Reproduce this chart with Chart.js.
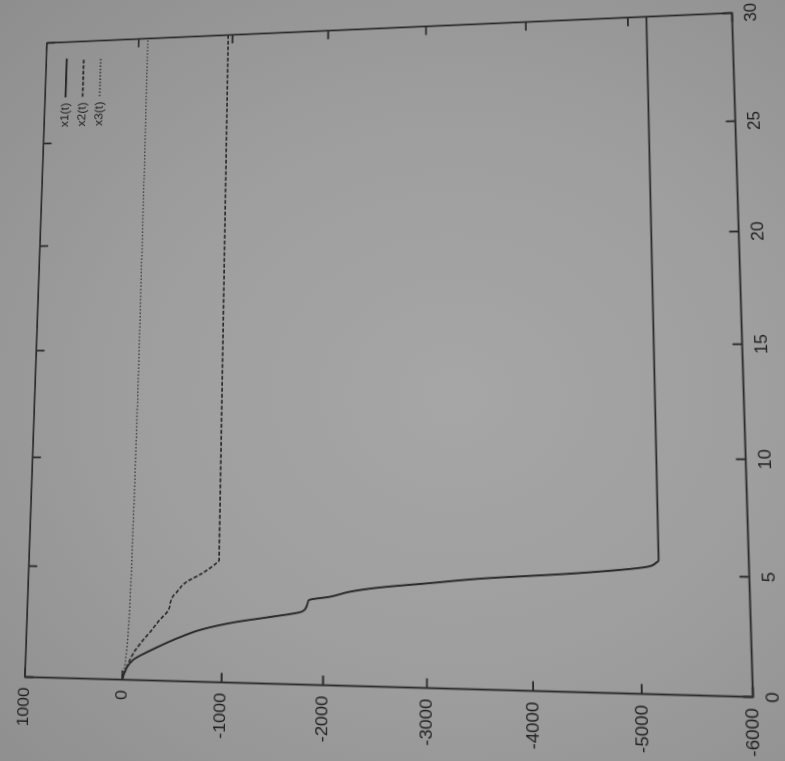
<!DOCTYPE html>
<html>
<head>
<meta charset="utf-8">
<script src="https://cdn.jsdelivr.net/npm/chart.js@4.4.1/dist/chart.umd.min.js"></script>
<style>
  html, body { margin: 0; width: 785px; height: 761px; overflow: hidden; }
  body {
    position: relative;
    background: radial-gradient(ellipse at 58% 52%, #a6a6a6 0%, #9e9e9e 50%, #8e8e8e 100%);
  }
  #grafica { position: absolute; left: 0; top: 0; transform-origin: 0 0; filter: blur(0.5px); }
</style>
</head>
<body>
<canvas id="grafica" width="740" height="780"></canvas>
<script>
// axis ticks
const tickT = [0, 5, 10, 15, 20, 25, 30];
const tickV = [1000, 0, -1000, -2000, -3000, -4000, -5000, -6000];

// x1(t)
const x1T = [0, 0.5, 0.9, 1.3, 1.7, 2.0, 2.3, 2.65, 2.9, 3.15, 3.3, 3.45, 3.6, 3.7, 3.85, 4.1, 4.3, 4.5, 4.75, 5.05, 5.35, 5.55, 5.65, 30];
const x1V = [0, -40, -110, -270, -455, -610, -790, -1120, -1455, -1770, -1820, -1835, -1845, -1860, -2060, -2270, -2560, -2990, -3520, -4440, -5060, -5160, -5180, -5180];

// x2(t)
const x2T = [0, 0.4, 0.8, 1.2, 1.7, 2.2, 2.7, 3.1, 3.25, 3.45, 3.7, 4.0, 4.35, 4.8, 5.3, 5.38, 30];
const x2V = [0, -30, -65, -110, -190, -283, -370, -450, -462, -470, -490, -545, -615, -790, -940, -955, -955];

// x3(t)
const x3T = [0, 0.5, 1, 2, 4, 7, 10, 15, 20, 25, 30];
const x3V = [0, -20, -32, -48, -62, -72, -80, -88, -92, -95, -97];

const names = ['x1(t)', 'x2(t)', 'x3(t)'];
const ink = '#2a2a2a';

const pts = (ts, vs) => ts.map((t, i) => ({ x: t, y: vs[i] }));

Chart.defaults.font.family = "'Liberation Sans Narrow', 'Liberation Sans', sans-serif";
Chart.defaults.font.size = 17;
Chart.defaults.color = '#1f1f1f';

// frame with inward ticks on all four sides
const frameTicks = {
  id: 'frameTicks',
  afterDatasetsDraw(chart) {
    const { ctx, chartArea: a, scales } = chart;
    const len = 9;
    ctx.save();
    ctx.strokeStyle = ink;
    ctx.lineWidth = 1.8;
    ctx.setLineDash([]);
    ctx.strokeRect(a.left, a.top, a.right - a.left, a.bottom - a.top);
    ctx.beginPath();
    tickT.forEach(t => {
      const px = scales.x.getPixelForValue(t);
      ctx.moveTo(px, a.bottom); ctx.lineTo(px, a.bottom - len);
      ctx.moveTo(px, a.top); ctx.lineTo(px, a.top + len);
    });
    tickV.forEach(v => {
      const py = scales.y.getPixelForValue(v);
      ctx.moveTo(a.left, py); ctx.lineTo(a.left + len, py);
      ctx.moveTo(a.right, py); ctx.lineTo(a.right - len, py);
    });
    ctx.stroke();
    ctx.restore();
  }
};

// key in the top right corner: label, then line sample
const keyBox = {
  id: 'keyBox',
  afterDatasetsDraw(chart) {
    const { ctx, chartArea: a } = chart;
    ctx.save();
    ctx.font = "13px 'Liberation Sans Narrow', 'Liberation Sans', sans-serif";
    ctx.textAlign = 'right';
    ctx.textBaseline = 'middle';
    chart.data.datasets.forEach((ds, i) => {
      const y = a.top + 23 + i * 19;
      ctx.fillStyle = '#1f1f1f';
      ctx.fillText(ds.label, a.right - 66, y);
      ctx.strokeStyle = ds.borderColor;
      ctx.lineWidth = ds.borderWidth + 0.4;
      ctx.setLineDash(ds.borderDash || []);
      ctx.beginPath();
      ctx.moveTo(a.right - 60, y);
      ctx.lineTo(a.right - 18, y);
      ctx.stroke();
    });
    ctx.restore();
  }
};

const chart = new Chart(document.getElementById('grafica'), {
  type: 'line',
  data: {
    datasets: [
      { label: names[0], data: pts(x1T, x1V), borderColor: ink, borderWidth: 1.9 },
      { label: names[1], data: pts(x2T, x2V), borderColor: ink, borderWidth: 1.7, borderDash: [4, 2] },
      { label: names[2], data: pts(x3T, x3V), borderColor: '#3c3c3c', borderWidth: 1.5, borderDash: [1.5, 2] }
    ]
  },
  options: {
    responsive: false,
    animation: false,
    cubicInterpolationMode: 'monotone',
    elements: { point: { radius: 0 } },
    layout: { padding: { top: 12, right: 14, bottom: 2, left: 4 } },
    plugins: { legend: { display: false }, tooltip: { enabled: false } },
    scales: {
      x: {
        type: 'linear', min: 0, max: 30,
        afterBuildTicks: s => { s.ticks = tickT.map(v => ({ value: v })); },
        ticks: { padding: 9, maxRotation: 0, callback: v => String(v) },
        grid: { display: false, drawTicks: false }, border: { display: false }
      },
      y: {
        type: 'linear', min: -6000, max: 1000,
        afterBuildTicks: s => { s.ticks = tickV.map(v => ({ value: v })); },
        ticks: { padding: 10, callback: v => String(v) },
        grid: { display: false, drawTicks: false }, border: { display: false }
      }
    }
  },
  plugins: [frameTicks, keyBox]
});

// sheet photographed turned on its side and slightly in perspective:
// map the plot corners onto the frame corners on the page
function solveHomography(src, dst) {
  const A = [], b = [];
  for (let i = 0; i < 4; i++) {
    const [x, y] = src[i], [X, Y] = dst[i];
    A.push([x, y, 1, 0, 0, 0, -x * X, -y * X]); b.push(X);
    A.push([0, 0, 0, x, y, 1, -x * Y, -y * Y]); b.push(Y);
  }
  const n = 8;
  for (let c = 0; c < n; c++) {
    let p = c;
    for (let r = c + 1; r < n; r++) if (Math.abs(A[r][c]) > Math.abs(A[p][c])) p = r;
    [A[c], A[p]] = [A[p], A[c]]; [b[c], b[p]] = [b[p], b[c]];
    for (let r = 0; r < n; r++) {
      if (r === c) continue;
      const f = A[r][c] / A[c][c];
      for (let k = c; k < n; k++) A[r][k] -= f * A[c][k];
      b[r] -= f * b[c];
    }
  }
  return b.map((v, i) => v / A[i][i]);
}

const a = chart.chartArea;
const h = solveHomography(
  [[a.left, a.top], [a.right, a.top], [a.right, a.bottom], [a.left, a.bottom]],
  [[25, 677], [47, 43], [732, 13], [753, 697]]
);
chart.canvas.style.transform =
  `matrix3d(${h[0]},${h[3]},0,${h[6]},${h[1]},${h[4]},0,${h[7]},0,0,1,0,${h[2]},${h[5]},0,1)`;
</script>
</body>
</html>
